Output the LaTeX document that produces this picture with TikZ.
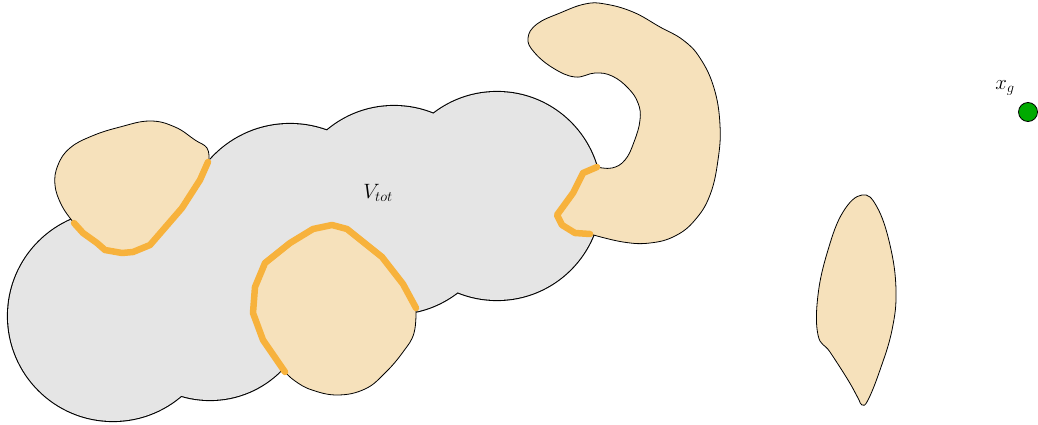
\documentclass[tikz,border=0pt]{standalone}
\definecolor{grayfill}{HTML}{E5E5E5}
\definecolor{beige}{HTML}{F6E1BB}
\definecolor{orng}{HTML}{F7B23C}
\definecolor{grn}{HTML}{00AA00}
\begin{document}
\begin{tikzpicture}[x=1pt,y=-1pt,line join=round,
  blob/.style={fill=beige,draw=black,line width=0.8pt},
  rim/.style={draw=orng,line width=6.5pt,line cap=round,line join=round},
  lbl/.style={font=\fontsize{21}{24}\selectfont}]
\useasboundingbox (0,0) rectangle (1038,425);
% union of circles: outline then fill
\foreach \cx/\cy/\r in {113/316/105, 210/300/100, 290/231/107, 394/210/104, 497/196/104}
  \draw[line width=2.2pt] (\cx,\cy) circle[radius=\r];
\foreach \cx/\cy/\r in {113/316/105, 210/300/100, 290/231/107, 394/210/104, 497/196/104}
  \fill[grayfill] (\cx,\cy) circle[radius=\r];
\node[lbl] (vtot) at (378,193) {$V_{tot}$};
% blob 1 (top-left)
\draw[blob] plot[smooth,tension=0.7] coordinates {
  (74,223) (62,206) (55,185) (58,165) (70,148) (92,136) (120,127) (150,121)
  (175,127) (195,140) (207,148) (209,160)}
  -- (200,180) -- (182,208) -- (163,230) -- (150,245) -- (133,252)
  -- (122,253) -- (105,250) -- (97,243) -- (83,233) -- cycle;
\draw[rim] (208,162) -- (200,180) -- (182,208) -- (163,230) -- (150,245) -- (133,252)
  -- (122,253) -- (105,250) -- (97,243) -- (83,233) -- (74,223);
% blob 2 (bottom-middle)
\draw[blob] plot[smooth,tension=0.7] coordinates {
  (416,308) (414,333) (403,352) (385,373) (365,389) (338,395) (312,390) (295,381) (285,372)}
  -- (263,340) -- (253,313) -- (255,287) -- (265,263) -- (290,243)
  -- (313,229) -- (332,225) -- (347,229) -- (382,257) -- (403,284) -- cycle;
\draw[rim] (285,372) -- (263,340) -- (253,313) -- (255,287) -- (265,263) -- (290,243)
  -- (313,229) -- (332,225) -- (347,229) -- (382,257) -- (403,284) -- (416,308);
% blob 3 (hook)
\draw[blob] plot[smooth,tension=0.7] coordinates {
  (590,234) (623,242) (650,243) (675,236) (695,220) (710,195) (718,160) (720,125)
  (714,88) (700,58) (683,40) (660,27) (633,12) (605,4) (585,4) (560,13) (537,24)
  (528,38) (534,52) (553,68) (575,77) (595,73) (612,76) (628,88) (638,103) (640,120)
  (634,142) (625,160) (612,168) (597,167)}
  -- (583,173) -- (573,193) -- (557,215) -- (562,225) -- (575,233) -- cycle;
\draw[rim] (597,167) -- (583,173) -- (573,193) -- (557,215) -- (562,225) -- (575,233) -- (590,234);
% blob 4 (leaf)
\draw[blob] plot[smooth cycle,tension=0.7] coordinates {
  (862,195) (843,212) (828,250) (818,295) (818,335) (830,352) (848,380) (858,398)
  (862,405) (868,400) (880,370) (892,330) (896,290) (890,245) (877,207)};
% goal point
\node[circle,draw=black,fill=grn,line width=0.8pt,minimum size=19pt,inner sep=0pt] (xg) at (1028,112) {};
\node[lbl] (xglbl) at (1005,88) {$x_g$};
\end{tikzpicture}
\end{document}
